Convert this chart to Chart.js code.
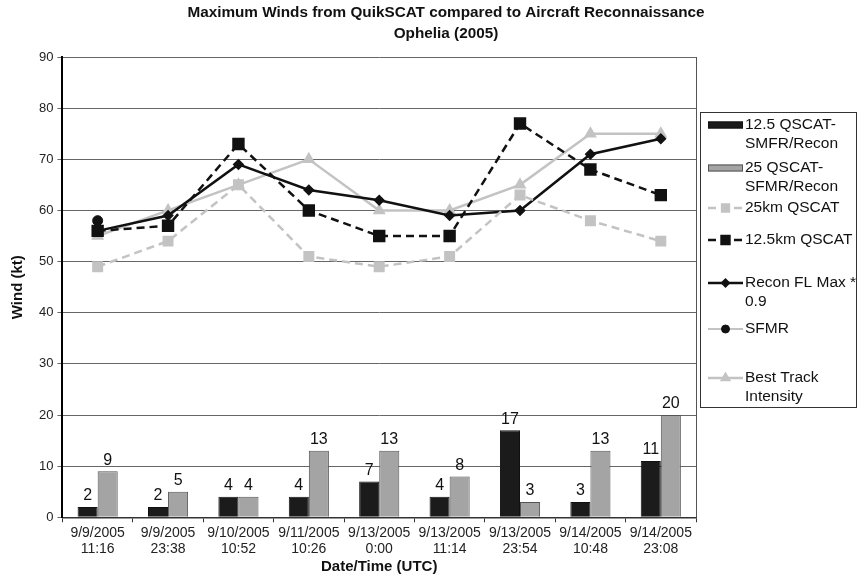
<!DOCTYPE html>
<html>
<head>
<meta charset="utf-8">
<script src="https://cdn.jsdelivr.net/npm/chart.js@4.4.1/dist/chart.umd.min.js"></script>
<style>
  html, body { margin: 0; padding: 0; background: #fff; }
  #wrap { width: 859px; height: 576px; }
</style>
</head>
<body>
<div id="wrap"><canvas id="winds"></canvas></div>
<script>
// categories (date / time of each recon pass)
var times = [
  ["9/9/2005", "11:16"], ["9/9/2005", "23:38"], ["9/10/2005", "10:52"],
  ["9/11/2005", "10:26"], ["9/13/2005", "0:00"], ["9/13/2005", "11:14"],
  ["9/13/2005", "23:54"], ["9/14/2005", "10:48"], ["9/14/2005", "23:08"]
];

var seriesNames = [
  "12.5 QSCAT-SMFR/Recon", "25 QSCAT-SFMR/Recon", "25km QSCAT",
  "12.5km QSCAT", "Recon FL Max * 0.9", "SFMR", "Best Track Intensity"
];

var titleLines = ["Maximum Winds from QuikSCAT compared to Aircraft Reconnaissance", "Ophelia (2005)"];

// differences (bars)
var diff125 = [2, 2, 4, 4, 7, 4, 17, 3, 11];
var diff25 = [9, 5, 4, 13, 13, 8, 3, 13, 20];

// wind speeds (lines)
var qscat25 = [49, 54, 65, 51, 49, 51, 63, 58, 54];
var qscat125 = [56, 57, 73, 60, 55, 55, 77, 68, 63];
var reconFL = [56, 59, 69, 64, 62, 59, 60, 71, 74];
var sfmr = [58, null, null, null, null, null, null, null, null];
var bestTrack = [55, 60, 65, 70, 60, 60, 65, 75, 75];

var yTicks = [0, 10, 20, 30, 40, 50, 60, 70, 80, 90];

var LIGHT = "#c3c3c3";
var FONT = "'Liberation Sans', Arial, sans-serif";

// title centred on the whole picture
var pageTitle = {
  id: "pageTitle",
  afterDraw(chart) {
    const ctx = chart.ctx;
    ctx.save();
    ctx.font = "bold 15.3px " + FONT;
    ctx.fillStyle = "#111";
    ctx.textAlign = "center";
    ctx.textBaseline = "middle";
    ctx.fillText(titleLines[0], 446, 13);
    ctx.fillText(titleLines[1], 446, 34);
    ctx.restore();
  }
};

// numbers above the bars
var barLabels = {
  id: "barLabels",
  afterDatasetsDraw(chart) {
    const ctx = chart.ctx;
    ctx.save();
    ctx.font = "16px " + FONT;
    ctx.fillStyle = "#111";
    ctx.textAlign = "center";
    ctx.textBaseline = "bottom";
    chart.data.datasets.forEach((ds, i) => {
      if (ds.type !== "bar") return;
      chart.getDatasetMeta(i).data.forEach((bar, j) => {
        ctx.fillText(ds.data[j], bar.x, bar.y - 3);
      });
    });
    ctx.restore();
  }
};

// right edge of the plot + boxed legend on the right
var frameAndLegend = {
  id: "frameAndLegend",
  afterDraw(chart) {
    const ctx = chart.ctx;
    const a = chart.chartArea;
    ctx.save();
    ctx.strokeStyle = "#555";
    ctx.lineWidth = 1;
    ctx.beginPath();
    ctx.moveTo(a.right + 0.5, a.top);
    ctx.lineTo(a.right + 0.5, a.bottom);
    ctx.stroke();

    // legend box
    ctx.strokeStyle = "#333";
    ctx.strokeRect(700.5, 112.5, 156, 295);

    const rows = [125, 168, 208, 240, 283, 329, 378];
    ctx.font = "15.5px " + FONT;
    ctx.textBaseline = "middle";
    ctx.textAlign = "left";
    chart.data.datasets.forEach((ds, i) => {
      const y = rows[i];
      const x0 = 708, x1 = 743;
      if (ds.type === "bar") {
        ctx.fillStyle = ds.backgroundColor;
        ctx.fillRect(x0, y - 3.5, x1 - x0, 7);
        ctx.strokeStyle = ds.borderColor;
        ctx.lineWidth = 1;
        ctx.strokeRect(x0 + 0.5, y - 3, x1 - x0 - 1, 6);
      } else {
        ctx.strokeStyle = ds.borderColor;
        ctx.lineWidth = ds.borderWidth;
        ctx.setLineDash(ds.borderDash || []);
        ctx.beginPath();
        ctx.moveTo(x0, y);
        ctx.lineTo(x1, y);
        ctx.stroke();
        ctx.setLineDash([]);
        ctx.fillStyle = ds.pointBackgroundColor;
        ctx.strokeStyle = ds.pointBorderColor;
        Chart.helpers.drawPoint(ctx, {
          pointStyle: ds.pointStyle, radius: ds.pointRadius * 0.8, rotation: 0, borderWidth: 1
        }, (x0 + x1) / 2, y);
      }
      ctx.fillStyle = "#111";
      const lines = wrap(ctx, ds.label, 112);
      lines.forEach((t, k) => ctx.fillText(t, 745, y + k * 19));
    });
    ctx.restore();
  }
};

function wrap(ctx, text, maxW) {
  const tokens = text.match(/[^\s-]+-?/g);
  const out = [];
  let cur = "";
  tokens.forEach(tk => {
    const join = cur === "" ? tk : (cur.endsWith("-") ? cur + tk : cur + " " + tk);
    if (cur !== "" && ctx.measureText(join).width > maxW) {
      out.push(cur);
      cur = tk;
    } else {
      cur = join;
    }
  });
  if (cur) out.push(cur);
  return out;
}

function lineSet(label, data, color, width, dash, style, radius) {
  return {
    type: "line",
    label: label,
    data: data,
    borderColor: color,
    backgroundColor: color,
    pointBackgroundColor: color,
    pointBorderColor: color,
    borderWidth: width,
    borderDash: dash,
    pointStyle: style,
    pointRadius: radius,
    tension: 0,
    spanGaps: false
  };
}

var sfmrSet = lineSet(seriesNames[5], sfmr, "#888", 1, [], "circle", 5);
sfmrSet.pointBackgroundColor = "#111";
sfmrSet.pointBorderColor = "#111";

new Chart("winds", {
  data: {
    labels: times,
    datasets: [
      { type: "bar", label: seriesNames[0], data: diff125, backgroundColor: "#1b1b1b", borderColor: "#111", borderWidth: 1 },
      { type: "bar", label: seriesNames[1], data: diff25, backgroundColor: "#a4a4a4", borderColor: "#555", borderWidth: 1 },
      lineSet(seriesNames[2], qscat25, LIGHT, 2.5, [8, 5], "rect", 6),
      lineSet(seriesNames[3], qscat125, "#111", 2.5, [8, 5], "rect", 7),
      lineSet(seriesNames[4], reconFL, "#111", 2.5, [], "rectRot", 4),
      sfmrSet,
      lineSet(seriesNames[6], bestTrack, LIGHT, 2.5, [], "triangle", 5)
    ]
  },
  options: {
    responsive: true,
    maintainAspectRatio: false,
    animation: false,
    layout: { padding: { left: 5, right: 163, top: 57, bottom: 1 } },
    datasets: { bar: { categoryPercentage: 0.57, barPercentage: 1 } },
    plugins: {
      legend: { display: false },
      tooltip: { enabled: false },
      title: { display: false }
    },
    scales: {
      x: {
        offset: true,
        grid: { drawOnChartArea: false, tickLength: 5, color: "#333" },
        border: { color: "#333", width: 1.5 },
        ticks: { font: { family: FONT, size: 14, lineHeight: 1.15 }, color: "#222", maxRotation: 0, autoSkip: false, padding: 3 },
        title: { display: true, text: "Date/Time (UTC)", font: { family: FONT, size: 15, weight: "bold", lineHeight: 1.1 }, color: "#111", padding: { top: -2, bottom: 0 } }
      },
      y: {
        min: yTicks[0],
        max: yTicks[yTicks.length - 1],
        afterBuildTicks: (axis) => { axis.ticks = yTicks.map(v => ({ value: v })); },
        grid: { color: "#666", tickLength: 5 },
        border: { color: "#000", width: 2 },
        ticks: { font: { family: FONT, size: 13 }, color: "#222", padding: 4 },
        title: { display: true, text: "Wind (kt)", font: { family: FONT, size: 15, weight: "bold" }, color: "#111", padding: { bottom: 8 } }
      }
    }
  },
  plugins: [barLabels, frameAndLegend, pageTitle]
});
</script>
</body>
</html>
